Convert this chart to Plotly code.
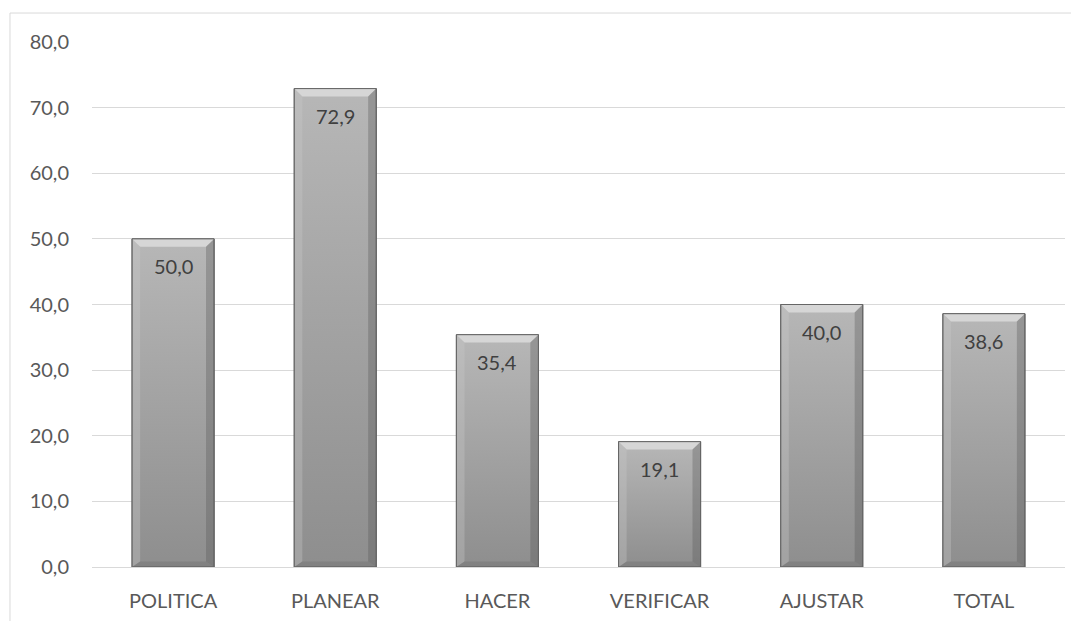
import plotly.graph_objects as go

categories = ["POLITICA", "PLANEAR", "HACER", "VERIFICAR", "AJUSTAR", "TOTAL"]
values = [50.0, 72.9, 35.4, 19.1, 40.0, 38.6]
y_ticks = [0, 10, 20, 30, 40, 50, 60, 70, 80]

fmt = lambda v: f"{v:.1f}".replace(".", ",")

W = 0.253   # half bar width (category units)
BX = 0.05   # bevel width, x units
BY = 1.2    # bevel height, y units

fig = go.Figure()

def poly(xs, ys, fill=None, grad=None, line=None):
    kw = dict(x=xs + [xs[0]], y=ys + [ys[0]], mode="lines", fill="toself",
              hoverinfo="skip", showlegend=False)
    if grad:
        kw["fillgradient"] = dict(type="vertical", colorscale=grad)
    else:
        kw["fillcolor"] = fill
    if line:
        kw["line"] = dict(color=line, width=1)
    else:
        kw["line"] = dict(width=0, color="rgba(0,0,0,0)")
    fig.add_trace(go.Scatter(**kw))

for i, v in enumerate(values):
    l, r = i - W, i + W
    # main face with vertical gradient (bottom -> top)
    poly([l, r, r, l], [0, 0, v, v],
         grad=[[0, "#8e8e8e"], [1, "#b7b7b7"]], line="#5e5e5e")
    # top bevel
    poly([l, r, r - BX, l + BX], [v, v, v - BY, v - BY], fill="#d6d6d6")
    # left bevel
    poly([l, l + BX, l + BX, l], [0, BY * 0.7, v - BY, v], fill="rgba(200,200,200,0.35)")
    # right bevel
    poly([r, r - BX, r - BX, r], [0, BY * 0.7, v - BY, v], fill="rgba(90,90,90,0.35)")
    # bottom bevel
    poly([l, r, r - BX, l + BX], [0, 0, BY * 0.7, BY * 0.7], fill="rgba(110,110,110,0.4)")
    # outline again
    poly([l, r, r, l], [0, 0, v, v], fill="rgba(0,0,0,0)", line="#666666")

for i, v in enumerate(values):
    fig.add_annotation(x=i, y=v, text=fmt(v), showarrow=False, yshift=-27,
                       font=dict(size=20, color="#404040", family="Lato"))

fig.add_shape(type="rect", xref="paper", yref="paper",
              x0=-0.0843, x1=1.2, y0=-0.3, y1=1.0552,
              line=dict(color="#d9d9d9", width=1), fillcolor="rgba(0,0,0,0)", layer="below")

fig.update_layout(
    width=1079, height=621,
    margin=dict(l=84, r=22, t=34, b=62),
    paper_bgcolor="white", plot_bgcolor="white",
    separators=",.",
    font=dict(family="Lato", size=20, color="#595959"),
    xaxis=dict(range=[-0.5, 5.5], tickmode="array", tickvals=list(range(len(categories))),
               ticktext=categories, showgrid=False, zeroline=False, showline=True,
               linecolor="#d9d9d9", linewidth=1, ticks="", ticklabelstandoff=16,
               fixedrange=True),
    yaxis=dict(range=[0, 80], tickmode="array", tickvals=y_ticks,
               ticktext=[fmt(t) for t in y_ticks], showgrid=True, gridcolor="#d9d9d9",
               gridwidth=1, zeroline=False, showline=False, ticks="",
               ticklabelstandoff=22, fixedrange=True),
    showlegend=False,
)

fig.write_html("out.html")
